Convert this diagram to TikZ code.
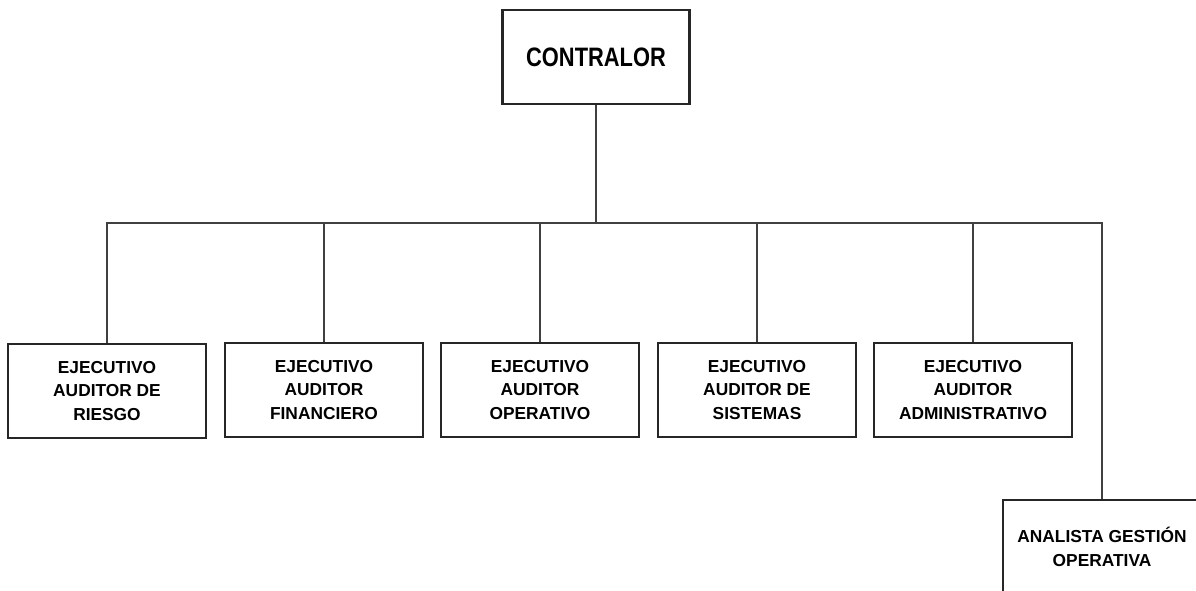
\documentclass[tikz,border=0pt]{standalone}
\usepackage{fontspec}
\setmainfont{Liberation Sans}
\newfontfamily\narrowfont{Liberation Sans}[FakeStretch=0.82]
\usetikzlibrary{positioning}

\begin{document}
\begin{tikzpicture}[x=0.75pt,y=-0.75pt,
  puesto/.style={draw=black!85,line width=1pt,minimum width=148.5pt,minimum height=70.5pt,
                 align=center,font=\fontsize{13}{17.6}\selectfont\bfseries},
  jefe/.style={puesto,line width=1.6pt,minimum width=140.25pt,
               font=\narrowfont\fontsize{20}{24}\selectfont\bfseries},
  linea/.style={draw=black!75,line width=1pt}]
\clip (0,0) rectangle (1196,590);
\node[jefe] (contralor) at (596,57) {CONTRALOR};
\node[puesto] (riesgo) at (107,391) {EJECUTIVO\\AUDITOR DE\\RIESGO};
\node[puesto] (financiero) at (324,390) {EJECUTIVO\\AUDITOR\\FINANCIERO};
\node[puesto] (operativo) at (540,390) {EJECUTIVO\\AUDITOR\\OPERATIVO};
\node[puesto] (sistemas) at (757,390) {EJECUTIVO\\AUDITOR DE\\SISTEMAS};
\node[puesto] (administrativo) at (973,390) {EJECUTIVO\\AUDITOR\\ADMINISTRATIVO};
\node[puesto] (analista) at (1102,547) {ANALISTA GESTI\'ON\\OPERATIVA};
\coordinate (bus) at (596,223);

\draw[linea] (contralor.south) -- (bus);
\draw[linea] (riesgo.north) |- (bus) -| (analista.north);
\foreach \n in {financiero,operativo,sistemas,administrativo}
  \draw[linea] (\n.north) -- (\n.north |- bus);
\end{tikzpicture}
\end{document}
